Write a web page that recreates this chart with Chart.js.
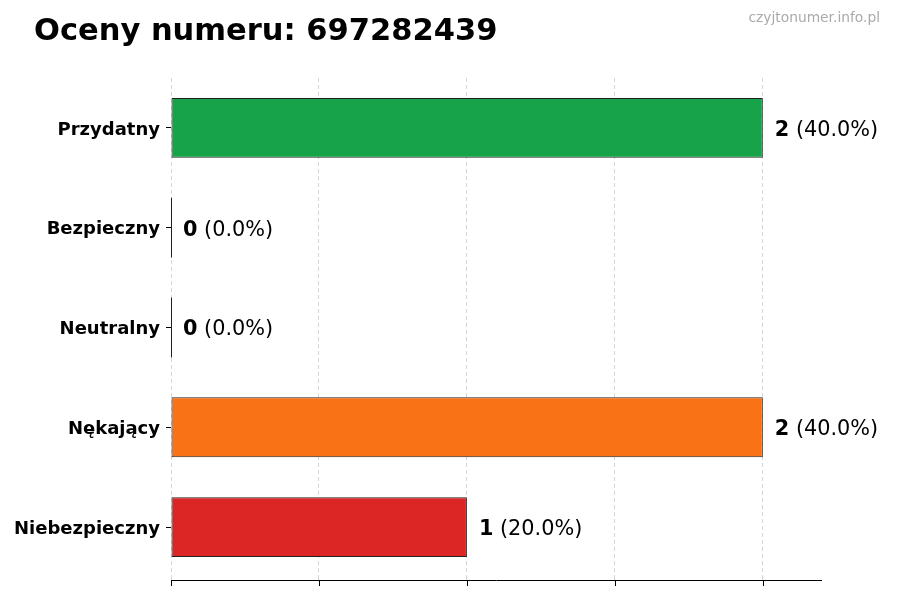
<!DOCTYPE html>
<html>
<head>
<meta charset="utf-8">
<script src="https://cdn.jsdelivr.net/npm/chart.js@4/dist/chart.umd.min.js"></script>
<style>
html,body{margin:0;padding:0;background:#fff;}
#wrap{width:900px;height:600px;position:relative;}
</style>
</head>
<body>
<div id="wrap"><canvas id="c" width="900" height="600"></canvas></div>
<script>
const categories = ["Przydatny", "Bezpieczny", "Neutralny", "Nękający", "Niebezpieczny"];
const counts = [2, 0, 0, 2, 1];
const percents = [40.0, 0.0, 0.0, 40.0, 20.0];
const barColors = ["#16a34a", "#3b82f6", "#9ca3af", "#f97316", "#dc2626"];
const xTicks = [0, 0.5, 1, 1.5, 2];
const titleText = "Oceny numeru: 697282439";
const watermark = "czyjtonumer.info.pl";

const FONT = "'DejaVu Sans', sans-serif";
const AXIS_Y = 580;

const decor = {
  id: 'decor',
  afterDraw(chart) {
    const ctx = chart.ctx;
    const xs = chart.scales.x;
    const ca = chart.chartArea;
    ctx.save();
    // x axis line and tick marks
    ctx.strokeStyle = '#000';
    ctx.lineWidth = 1;
    ctx.setLineDash([]);
    ctx.beginPath();
    ctx.moveTo(ca.left, AXIS_Y + 0.5);
    ctx.lineTo(ca.right, AXIS_Y + 0.5);
    xTicks.forEach(v => {
      const px = Math.round(xs.getPixelForValue(v)) + 0.5;
      ctx.moveTo(px, AXIS_Y);
      ctx.lineTo(px, AXIS_Y + 6);
    });
    ctx.stroke();

    ctx.fillStyle = '#000';
    ctx.font = "bold 30.5px " + FONT;
    ctx.textAlign = 'left';
    ctx.textBaseline = 'alphabetic';
    ctx.fillText(titleText, 34, 40);
    ctx.fillStyle = '#aaaaaa';
    ctx.font = "13.8px " + FONT;
    ctx.textAlign = 'right';
    ctx.fillText(watermark, 880, 22);
    // value labels
    const meta = chart.getDatasetMeta(0);
    ctx.textAlign = 'left';
    ctx.textBaseline = 'middle';
    counts.forEach((v, i) => {
      const x = xs.getPixelForValue(v) + 12;
      const y = meta.data[i].y + 2.5;
      ctx.fillStyle = '#000';
      ctx.font = "bold 20.8px " + FONT;
      const a = String(v);
      ctx.fillText(a, x, y);
      const w = ctx.measureText(a).width;
      ctx.font = "20.8px " + FONT;
      ctx.fillText(" (" + percents[i].toFixed(1) + "%)", x + w, y);
    });
    // zero-length bars edge
    counts.forEach((v, i) => {
      if (v === 0) {
        const bar = meta.data[i];
        const x0 = xs.getPixelForValue(0);
        ctx.strokeStyle = '#222';
        ctx.lineWidth = 1;
        ctx.beginPath();
        ctx.moveTo(x0 + 0.5, bar.y - bar.height / 2);
        ctx.lineTo(x0 + 0.5, bar.y + bar.height / 2);
        ctx.stroke();
      }
    });
    ctx.restore();
  }
};

new Chart(document.getElementById('c'), {
  type: 'bar',
  data: {
    labels: categories,
    datasets: [{
      data: counts,
      backgroundColor: barColors,
      borderColor: '#222',
      borderWidth: 1,
      borderSkipped: false,
      categoryPercentage: 1.0,
      barPercentage: 0.6
    }]
  },
  options: {
    indexAxis: 'y',
    responsive: false,
    animation: false,
    devicePixelRatio: 1,
    layout: { padding: { left: 0, right: 78, top: 78, bottom: 0 } },
    plugins: { legend: { display: false }, tooltip: { enabled: false }, title: { display: false } },
    scales: {
      x: {
        min: 0,
        max: 2.2,
        z: 1,
        afterBuildTicks(scale) { scale.ticks = xTicks.map(v => ({ value: v })); },
        afterFit(scale) { scale.height = 23; },
        ticks: { display: false, includeBounds: false },
        grid: {
          color: 'rgba(0,0,0,0.16)',
          tickColor: 'rgba(0,0,0,0.16)',
          tickBorderDash: [4, 3],
          tickLength: 3,
          drawTicks: true
        },
        border: { display: false, dash: [4, 3] }
      },
      y: {
        afterFit(scale) { scale.width = 171; },
        ticks: { color: '#000', font: { family: FONT, weight: 'bold', size: 18 }, padding: 6, labelOffset: 2 },
        grid: { offset: false, drawOnChartArea: false, drawTicks: true, tickLength: 5, color: '#000' },
        border: { display: false }
      }
    }
  },
  plugins: [decor]
});
</script>
</body>
</html>
